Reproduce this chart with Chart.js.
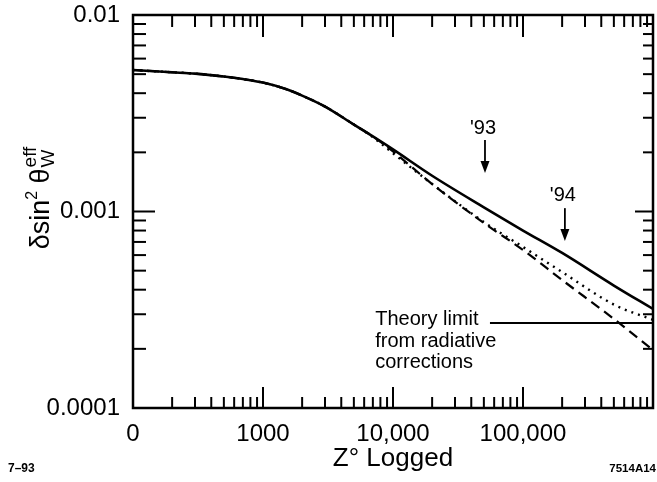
<!DOCTYPE html>
<html>
<head>
<meta charset="utf-8">
<script src="https://cdn.jsdelivr.net/npm/chart.js@4/dist/chart.umd.min.js"></script>
<style>
  html, body { margin: 0; padding: 0; background: #fff; }
  #wrap { width: 657px; height: 482px; position: relative; }
</style>
</head>
<body>
<div id="wrap"><canvas id="c" width="657" height="482"></canvas></div>
<script>
// ---- data ----
const zLogged = [100, 200, 300, 500, 700, 1000, 1500, 2000, 3000, 5000, 7000, 10000, 20000, 50000, 100000, 200000, 500000, 1000000];
const totalError = [0.00525, 0.00511, 0.00503, 0.00486, 0.00472, 0.00453, 0.00420, 0.00389, 0.00342, 0.00277, 0.00241, 0.00207, 0.00152, 0.00105, 0.00080, 0.000615, 0.00042, 0.000319];
const dottedError = [0.00525, 0.00511, 0.00503, 0.00486, 0.00472, 0.00453, 0.00420, 0.00389, 0.00342, 0.00277, 0.00239, 0.00198, 0.00138, 0.000884, 0.00066, 0.000492, 0.000336, 0.000281];
const dashedError = [0.00525, 0.00511, 0.00503, 0.00486, 0.00472, 0.00453, 0.00420, 0.00389, 0.00342, 0.00277, 0.00241, 0.00202, 0.00138, 0.000874, 0.000637, 0.000448, 0.000284, 0.000197];

const theoryLimitZ = [55700, 1000000];
const theoryLimitValue = [0.000271, 0.000271];
const theoryLabel = ['Theory limit', 'from radiative', 'corrections'];
const theoryLabelZ = 7300;

const arrowLabels = ["'93", "'94"];
const arrowZ = [51000, 210000];
const arrowTop = [0.00231, 0.00104];
const arrowTip = [0.00157, 0.000708];
const arrowLabelY = [0.00263, 0.00120];

const xMajorValues = [100, 1000, 10000, 100000];
const xTickLabels = ['0', '1000', '10,000', '100,000'];
const yMajorValues = [0.0001, 0.001, 0.01];
const yTickLabels = ['0.0001', '0.001', '0.01'];
const xDecades = [100, 1000, 10000, 100000];
const yDecades = [0.0001, 0.001];
const minorSteps = [1, 2, 3, 4, 5, 6, 7, 8, 9];

const xTitle = 'Z° Logged';
const footLeft = '7–93';
const footRight = '7514A14';

// ---- helpers ----
const FONT = '"Liberation Sans", Arial, Helvetica, sans-serif';
function pts(xs, ys) { return xs.map((x, i) => ({ x: x, y: ys[i] })); }
function isDecade(v) { const l = Math.log10(v); return Math.abs(l - Math.round(l)) < 1e-6; }
function buildTicks(decades, last) {
  const t = [];
  decades.forEach(d => minorSteps.forEach(m => t.push({ value: d * m })));
  t.push({ value: last });
  return t;
}
function labelFor(v, majors, labels) {
  for (let i = 0; i < majors.length; i++) {
    if (Math.abs(v - majors[i]) / majors[i] < 1e-6) return labels[i];
  }
  return '';
}
function zeroPad(s) { s.paddingTop = 0; s.paddingBottom = 0; s.paddingLeft = 0; s.paddingRight = 0; }

const decorPlugin = {
  id: 'decor',
  beforeDraw(chart) {
    const ctx = chart.ctx;
    ctx.save();
    ctx.fillStyle = '#fff';
    ctx.fillRect(0, 0, chart.width, chart.height);
    ctx.restore();
  },
  afterDatasetsDraw(chart) {
    const ctx = chart.ctx, a = chart.chartArea;
    const xs = chart.scales.x, ys = chart.scales.y;
    ctx.save();
    ctx.strokeStyle = '#000';
    ctx.lineWidth = 2;
    ctx.lineCap = 'butt';
    function line(x1, y1, x2, y2) { ctx.beginPath(); ctx.moveTo(x1, y1); ctx.lineTo(x2, y2); ctx.stroke(); }
    xs.ticks.forEach(t => {
      const px = xs.getPixelForValue(t.value);
      const maj = isDecade(t.value);
      line(px, a.bottom, px, a.bottom - (maj ? 21 : 11));
      line(px, a.top, px, a.top + (maj ? 22 : 12));
    });
    ys.ticks.forEach(t => {
      const py = ys.getPixelForValue(t.value);
      const maj = isDecade(t.value);
      line(a.left, py, a.left + (maj ? 22 : 13), py);
      line(a.right, py, a.right - (maj ? 18 : 10), py);
    });
    // frame
    ctx.lineWidth = 2.5;
    ctx.strokeRect(a.left, a.top, a.right - a.left, a.bottom - a.top);

    // arrows and their labels
    ctx.fillStyle = '#000';
    ctx.lineWidth = 1.8;
    ctx.font = '20px ' + FONT;
    ctx.textAlign = 'center';
    ctx.textBaseline = 'middle';
    arrowZ.forEach((z, i) => {
      const px = xs.getPixelForValue(z);
      const y0 = ys.getPixelForValue(arrowTop[i]);
      const y1 = ys.getPixelForValue(arrowTip[i]);
      line(px, y0, px, y1 - 10);
      ctx.beginPath();
      ctx.moveTo(px - 4.5, y1 - 12);
      ctx.lineTo(px + 4.5, y1 - 12);
      ctx.lineTo(px, y1);
      ctx.closePath();
      ctx.fill();
      ctx.fillText(arrowLabels[i], px - 2, ys.getPixelForValue(arrowLabelY[i]));
    });

    // theory label
    ctx.font = '20px ' + FONT;
    ctx.textAlign = 'left';
    const tx = xs.getPixelForValue(theoryLabelZ);
    const ty = ys.getPixelForValue(theoryLimitValue[0]);
    theoryLabel.forEach((s, i) => ctx.fillText(s, tx, ty - 3 + i * 21.5));
    ctx.restore();
  },
  afterDraw(chart) {
    const ctx = chart.ctx, a = chart.chartArea;
    ctx.save();
    ctx.fillStyle = '#000';
    // y-axis title: δsin² θ_W^eff (rotated)
    const big = 27, sup = 16, tiny = 19;
    const segs = [
      { t: 'δsin', f: big, dy: 0 },
      { t: '2', f: sup, dy: -12 },
      { t: ' θ', f: big, dy: 0 }
    ];
    ctx.translate(49, 198);
    ctx.rotate(-Math.PI / 2);
    ctx.textBaseline = 'alphabetic';
    ctx.textAlign = 'left';
    let total = 0;
    segs.forEach(s => { ctx.font = s.f + 'px ' + FONT; s.w = ctx.measureText(s.t).width; total += s.w; });
    ctx.font = tiny + 'px ' + FONT;
    const wEff = ctx.measureText('eff').width;
    const wW = ctx.measureText('W').width;
    total += Math.max(wEff, wW) + 1;
    let x = -total / 2;
    segs.forEach(s => { ctx.font = s.f + 'px ' + FONT; ctx.fillText(s.t, x, s.dy); x += s.w; });
    x += 1;
    ctx.font = tiny + 'px ' + FONT;
    ctx.fillText('eff', x, -13);
    ctx.fillText('W', x, 5);
    ctx.restore();

    ctx.save();
    ctx.fillStyle = '#000';
    ctx.font = '26px ' + FONT;
    ctx.textAlign = 'center';
    ctx.textBaseline = 'middle';
    ctx.fillText(xTitle, (a.left + a.right) / 2, 459);
    ctx.font = 'bold 12px ' + FONT;
    ctx.textAlign = 'left';
    ctx.fillText(footLeft, 8, 469);
    ctx.textAlign = 'right';
    ctx.font = 'bold 11.5px ' + FONT;
    ctx.fillText(footRight, 656, 469);
    ctx.restore();
  }
};

new Chart(document.getElementById('c'), {
  type: 'line',
  data: {
    datasets: [
      { data: pts(theoryLimitZ, theoryLimitValue), borderColor: '#000', borderWidth: 2, pointRadius: 0, tension: 0 },
      { data: pts(zLogged, dashedError), borderColor: '#000', borderWidth: 2.2, borderDash: [10, 6], pointRadius: 0, cubicInterpolationMode: 'monotone' },
      { data: pts(zLogged, dottedError), borderColor: '#000', borderWidth: 2.4, borderDash: [2, 5], pointRadius: 0, cubicInterpolationMode: 'monotone' },
      { data: pts(zLogged, totalError), borderColor: '#000', borderWidth: 2.6, pointRadius: 0, cubicInterpolationMode: 'monotone' }
    ]
  },
  options: {
    responsive: false,
    devicePixelRatio: 1,
    animation: false,
    layout: { padding: { left: 0, top: 15, right: 4, bottom: 0 } },
    plugins: { legend: { display: false }, tooltip: { enabled: false } },
    scales: {
      x: {
        type: 'logarithmic',
        min: 100, max: 1000000,
        grid: { display: false, drawTicks: false },
        border: { display: false },
        afterBuildTicks: s => { s.ticks = buildTicks(xDecades, 1000000); },
        afterFit: s => { s.height = 74; zeroPad(s); },
        ticks: {
          autoSkip: false, maxRotation: 0, minRotation: 0, padding: 12,
          color: '#000', font: { family: FONT, size: 24 },
          callback: v => labelFor(v, xMajorValues, xTickLabels)
        }
      },
      y: {
        type: 'logarithmic',
        min: 0.0001, max: 0.01,
        grid: { display: false, drawTicks: false },
        border: { display: false },
        afterBuildTicks: s => { s.ticks = buildTicks(yDecades, 0.01); },
        afterFit: s => { s.width = 133; zeroPad(s); },
        ticks: {
          autoSkip: false, padding: 13,
          color: '#000', font: { family: FONT, size: 24 },
          callback: v => labelFor(v, yMajorValues, yTickLabels)
        }
      }
    }
  },
  plugins: [decorPlugin]
});
</script>
</body>
</html>
